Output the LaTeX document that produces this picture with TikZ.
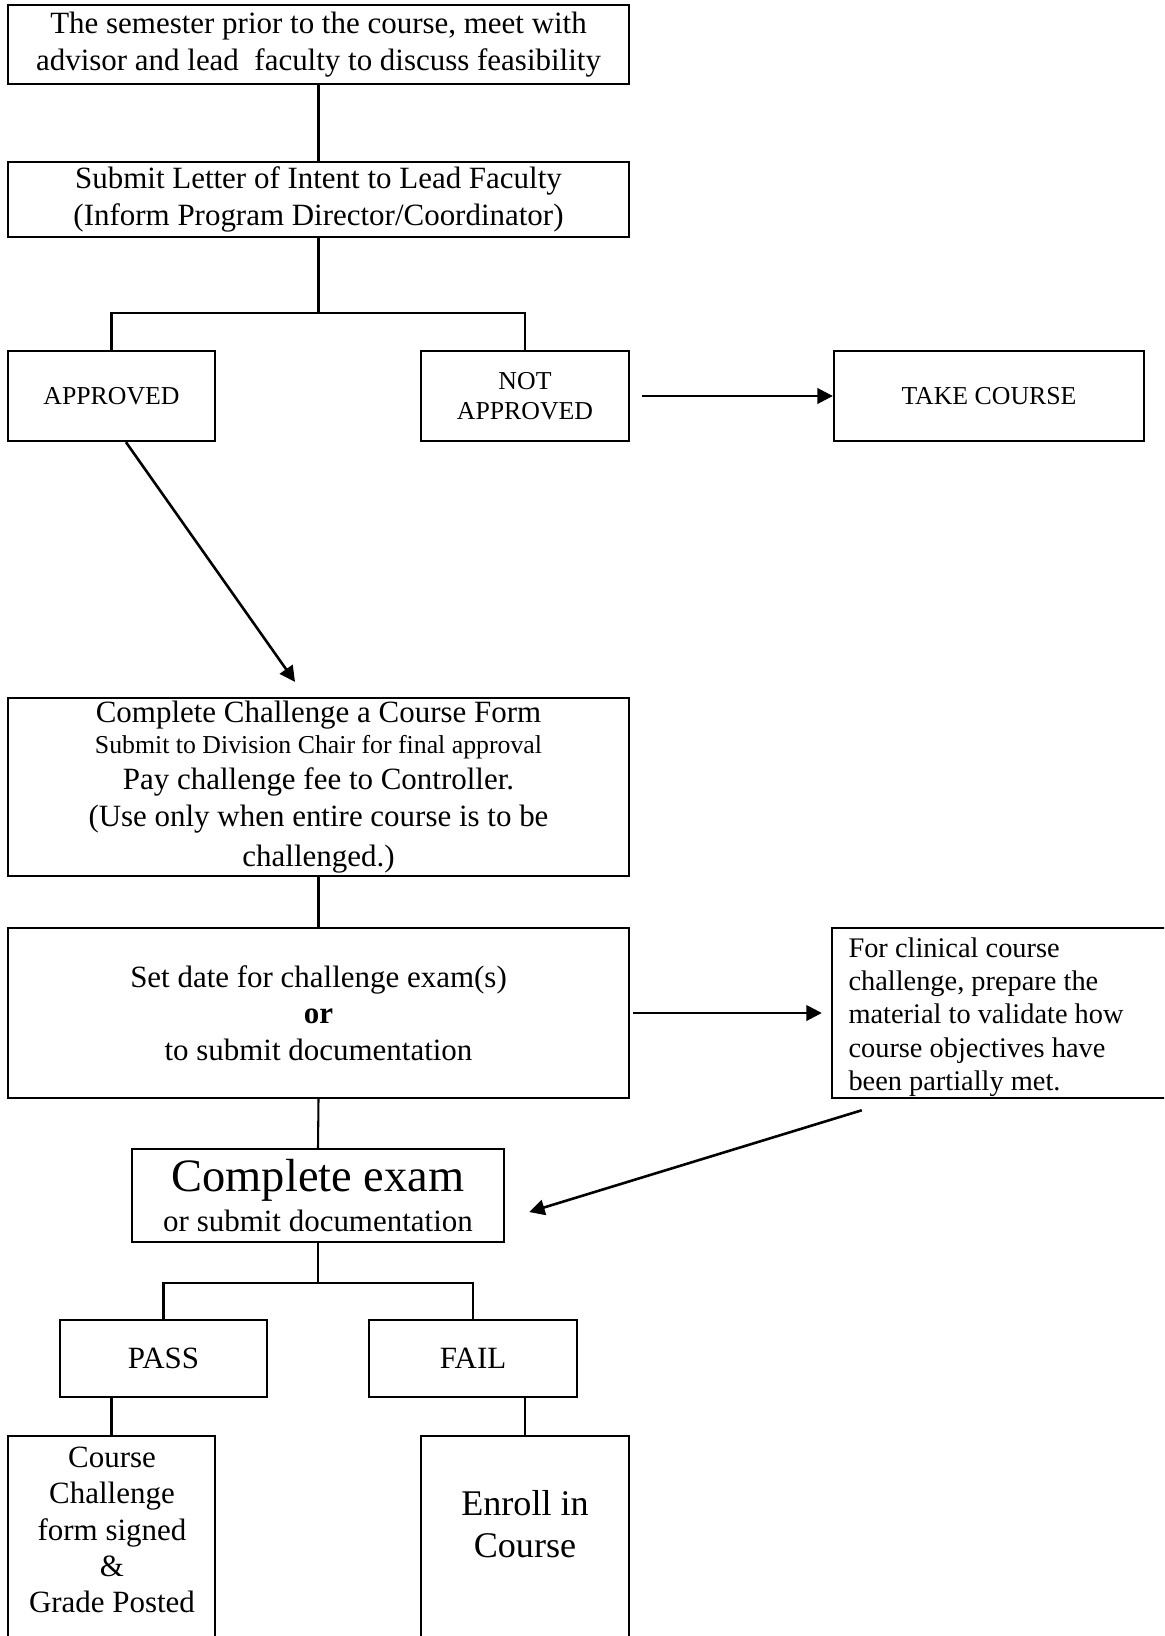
\documentclass[tikz,border=0pt]{standalone}
\usepackage{fontspec}
\setmainfont{Liberation Serif}
\usetikzlibrary{arrows.meta,fit}
\begin{document}
\begin{tikzpicture}[x=0.3876pt,y=-0.3876pt,
  box/.style={draw,line width=0.9pt,inner sep=0pt},
  wh/.style 2 args={minimum width=#1*0.3876pt,minimum height=#2*0.3876pt},
  conn/.style={line width=0.8pt},
  arr/.style={line width=1pt,-{Triangle[length=6pt,width=6pt]}},
  twelve/.style={font=\fontsize{12}{14.1}\selectfont,align=center},
  ten/.style={font=\fontsize{10}{11.7}\selectfont,align=center}]
\clip (0,0) rectangle (1164,1636);
\fill[white] (0,0) rectangle (1164,1636);

% boxes
\node[box,twelve,wh={621}{79}] (meet) at (318.5,44.5)
  {The semester prior to the course, meet with\\advisor and lead\ \ faculty to discuss feasibility};
\node[box,twelve,wh={621}{75}] (letter) at (318.5,199.5)
  {Submit Letter of Intent to Lead Faculty\\(Inform Program Director/Coordinator)};
\node[box,ten,wh={207}{90}] (appr) at (111.5,396) {APPROVED};
\node[box,ten,wh={208}{90}] (notappr) at (525,396) {NOT\\APPROVED};
\node[box,ten,wh={310}{90}] (take) at (989,396) {TAKE COURSE};
\node[box,twelve,wh={621}{178}] (chall) at (318.5,787)
  {Complete Challenge a Course Form\\[-2.0pt]
   {\fontsize{10}{11.7}\selectfont Submit to Division Chair for final approval}\\[-0.3pt]
   Pay challenge fee to Controller.\\[0.4pt]
   (Use only when entire course is to be\\[1.2pt]
   challenged.)};
\node[box,twelve,wh={621}{170}] (setdate) at (318.5,1013)
  {Set date for challenge exam(s)\\\textbf{or}\\to submit documentation};
\node[box,wh={348}{170}] (clinical) at (1006,1013) {};
\node[anchor=west,align=left,inner sep=0pt,font=\fontsize{11}{12.9}\selectfont]
  (clinicaltext) at (848,1017)
  {For clinical course\\challenge, prepare the\\material to validate how\\course objectives have\\been partially met.};
\node[box,align=center,wh={372}{93}] (exam) at (318,1195.5)
  {{\fontsize{18}{21}\selectfont Complete exam}\\[2.2pt]
   {\fontsize{12}{14.1}\selectfont or submit documentation}};
\node[box,twelve,wh={207}{77}] (pass) at (163.5,1358.5) {PASS};
\node[box,twelve,wh={208}{77}] (fail) at (473,1358.5) {FAIL};
\node[box,fit={(8,1436)(215,1660)}] (cc) {};
\node[twelve,inner sep=0pt] (cctext) at (112,1530)
  {Course\\Challenge\\form signed\\\&\\Grade Posted};
\node[box,fit={(421,1436)(629,1660)}] (enroll) {};
\node[align=center,inner sep=0pt,font=\fontsize{14}{16.2}\selectfont] (enrolltext) at (525,1524)
  {Enroll in\\Course};

% connectors
\coordinate (split1) at (318.5,313);
\coordinate (split2) at (318,1283);
\draw[conn] (meet.south) -- (letter.north);
\draw[conn] (letter.south) -- (split1);
\draw[conn] (appr.north) |- (split1) -| (notappr.north);
\draw[arr,shorten <=4.6pt] (notappr.east) -- (take.west);
\draw[arr] ([xshift=5.6pt]appr.south) -- ([xshift=-9.1pt,yshift=5.8pt]chall.north);
\draw[conn] (chall.south) -- (setdate.north);
\draw[arr,shorten <=1.2pt,shorten >=3.5pt] (setdate.east) -- (clinical.west);
\draw[arr] ([xshift=12pt,yshift=-4.3pt]clinical.south west) -- ([xshift=9.3pt,yshift=-6.4pt]exam.east);
\draw[conn] (setdate.south) -- (exam.north);
\draw[conn] (exam.south) -- (split2);
\draw[conn] (pass.north) |- (split2) -| (fail.north);
\draw[conn] (pass.south -| cc.north) -- (cc.north);
\draw[conn] (fail.south -| enroll.north) -- (enroll.north);
\end{tikzpicture}
\end{document}
